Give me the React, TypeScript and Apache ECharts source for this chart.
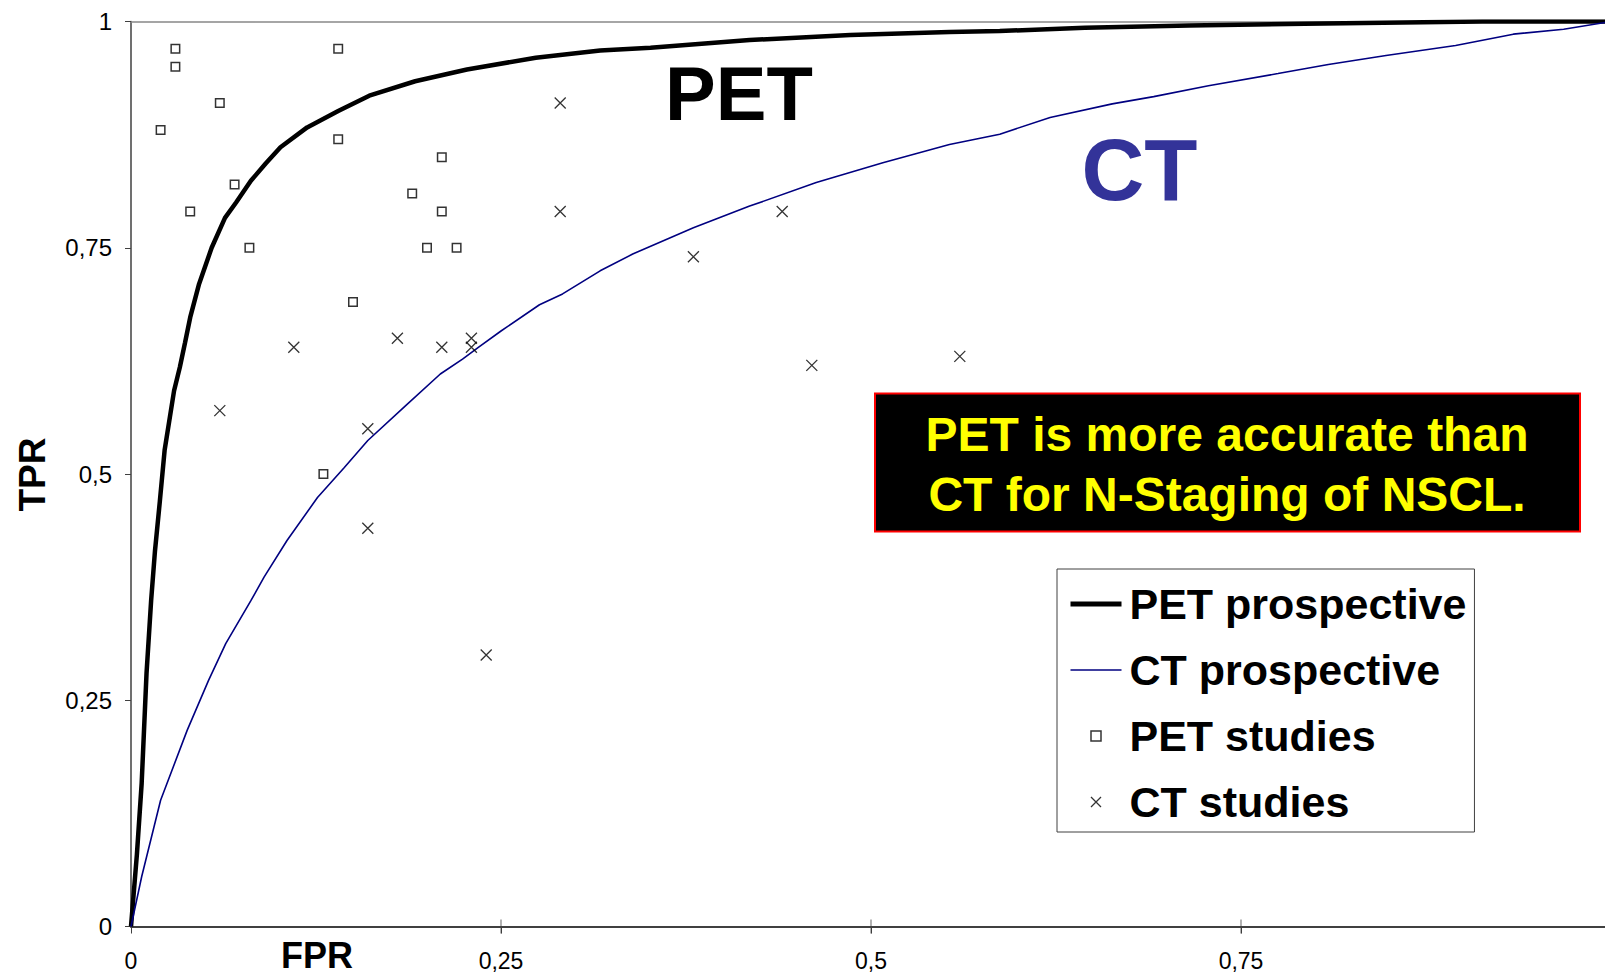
import React, { useEffect, useRef } from "react";
import * as echarts from "echarts";

// ---- data (FPR, TPR) ----
const petProspective: [number, number][] = [
  [0, 0], [0.004, 0.08], [0.0072, 0.158], [0.0105, 0.28], [0.0136, 0.36], [0.0162, 0.415],
  [0.0195, 0.47], [0.0227, 0.526], [0.0291, 0.592], [0.033, 0.618], [0.0365, 0.645],
  [0.04, 0.673], [0.046, 0.71], [0.0545, 0.75], [0.0635, 0.783], [0.071, 0.8], [0.081, 0.824],
  [0.091, 0.843], [0.101, 0.861], [0.119, 0.883], [0.14, 0.901], [0.161, 0.918], [0.192, 0.934],
  [0.227, 0.947], [0.2735, 0.96], [0.317, 0.968], [0.351, 0.971], [0.418, 0.9795],
  [0.486, 0.985], [0.553, 0.9885], [0.587, 0.9895], [0.6445, 0.993], [0.715, 0.9956],
  [0.793, 0.9974], [0.913, 1.0], [1, 1],
];

const ctProspective: [number, number][] = [
  [0, 0], [0.0072, 0.055], [0.02, 0.1395], [0.038, 0.217], [0.0524, 0.272], [0.064, 0.3125],
  [0.081, 0.36], [0.0899, 0.386], [0.1054, 0.4265], [0.126, 0.474], [0.144, 0.507],
  [0.16, 0.537], [0.1856, 0.5755], [0.209, 0.6105], [0.224, 0.627], [0.2347, 0.64],
  [0.25, 0.658], [0.276, 0.687], [0.2916, 0.699], [0.317, 0.7245], [0.339, 0.743],
  [0.38, 0.772], [0.418, 0.796], [0.463, 0.822], [0.508, 0.844], [0.553, 0.864],
  [0.587, 0.8755], [0.621, 0.894], [0.663, 0.909], [0.691, 0.917], [0.728, 0.929],
  [0.775, 0.9425], [0.809, 0.9525], [0.848, 0.9625], [0.895, 0.9735], [0.934, 0.986],
  [0.968, 0.9915], [1, 1],
];

const petStudies: [number, number][] = [
  [0.03, 0.97], [0.03, 0.95], [0.06, 0.91], [0.02, 0.88], [0.14, 0.97], [0.14, 0.87],
  [0.21, 0.85], [0.07, 0.82], [0.19, 0.81], [0.04, 0.79], [0.21, 0.79], [0.08, 0.75],
  [0.2, 0.75], [0.22, 0.75], [0.15, 0.69], [0.13, 0.5],
];

const ctStudies: [number, number][] = [
  [0.29, 0.91], [0.29, 0.79], [0.11, 0.64], [0.18, 0.65], [0.21, 0.64], [0.23, 0.65],
  [0.23, 0.64], [0.06, 0.57], [0.16, 0.55], [0.16, 0.44], [0.24, 0.3], [0.44, 0.79],
  [0.38, 0.74], [0.46, 0.62], [0.56, 0.63],
];

const axisTickValues = [0, 0.25, 0.5, 0.75, 1];
const seriesNames = ["PET prospective", "CT prospective", "PET studies", "CT studies"];
const curveLabels = ["PET", "CT"];
const axisNames = ["FPR", "TPR"];
const messageLines = ["PET is more accurate than", "CT for N-Staging of NSCL."];

const FONT = "'Liberation Sans', Arial, Helvetica, sans-serif";
const X_PATH = "path://M0,0L10,10M10,0L0,10";
const SQUARE_PATH = "path://M0,0L10,0L10,10L0,10Z";
const fmt = (v: number) => String(v).replace(".", ",");

export default function App() {
  const ref = useRef<HTMLDivElement>(null);

  useEffect(() => {
    if (!ref.current) return;
    const chart = echarts.init(ref.current, undefined, { renderer: "svg" });

    const option: any = {
      animation: false,
      backgroundColor: "#fff",
      grid: { left: 131, top: 21.5, width: 1480, height: 905, containLabel: false, outerBoundsMode: "none" },
      xAxis: [
        {
          type: "value", min: 0, max: 1, interval: 0.25, position: "bottom",
          axisLine: { show: true, onZero: false, lineStyle: { color: "#404040", width: 2 } },
          axisTick: { show: true, inside: false, length: 7, lineStyle: { color: "#404040", width: 1 } },
          axisLabel: {
            margin: 25, fontSize: 23, lineHeight: 18, color: "#000", fontFamily: FONT,
            formatter: fmt, showMaxLabel: false,
          },
          splitLine: { show: false },
        },
        {
          type: "value", min: 0, max: 1, interval: 0.25, position: "top",
          axisLine: { show: true, onZero: false, lineStyle: { color: "#888", width: 1.5 } },
          axisTick: { show: false }, axisLabel: { show: false }, splitLine: { show: false },
        },
      ],
      yAxis: {
        type: "value", min: 0, max: 1, interval: 0.25,
        axisLine: { show: true, onZero: false, lineStyle: { color: "#404040", width: 1.5 } },
        axisTick: { show: true, length: 6, lineStyle: { color: "#404040", width: 1 } },
        axisLabel: { margin: 19, fontSize: 24, color: "#000", fontFamily: FONT, formatter: fmt },
        splitLine: { show: false },
      },
      legend: {
        orient: "vertical", left: 1057, top: 569,
        padding: [7, 8, 2, 11], itemGap: 10, itemWidth: 51, itemHeight: 10,
        borderColor: "#404040", borderWidth: 1, backgroundColor: "#fff",
        selectedMode: false, symbolKeepAspect: true,
        textStyle: { fontFamily: FONT, fontWeight: "bold", fontSize: 43, color: "#000", lineHeight: 56, padding: [0, 0, 0, 3] },
        data: [
          { name: seriesNames[0], itemStyle: { color: "transparent", borderWidth: 0 }, lineStyle: { color: "#000", width: 5 } },
          { name: seriesNames[1], itemStyle: { color: "transparent", borderWidth: 0 }, lineStyle: { color: "#000080", width: 1.5 } },
          { name: seriesNames[2], icon: SQUARE_PATH, itemStyle: { color: "#fff", borderColor: "#000", borderWidth: 1.5 } },
          { name: seriesNames[3], icon: X_PATH, itemStyle: { color: "none", borderColor: "#000", borderWidth: 1.3 } },
        ],
      },
      series: [
        {
          name: seriesNames[0], type: "line", data: petProspective, symbol: "none",
          lineStyle: { color: "#000", width: 4.5 }, itemStyle: { color: "#000" }, z: 2,
        },
        {
          name: seriesNames[1], type: "line", data: ctProspective, symbol: "none",
          lineStyle: { color: "#000080", width: 1.6 }, itemStyle: { color: "#000080" }, z: 2,
        },
        {
          name: seriesNames[2], type: "scatter", data: petStudies, symbol: "rect", symbolSize: 8.5,
          itemStyle: { color: "#fff", borderColor: "#000", borderWidth: 1.5 }, z: 3,
        },
        {
          name: seriesNames[3], type: "scatter", data: ctStudies, symbol: X_PATH, symbolSize: 11,
          itemStyle: { color: "none", borderColor: "#000", borderWidth: 1.3 }, z: 3,
        },
        {
          name: "xTicks", type: "scatter", data: axisTickValues.slice(1).map((v) => [v, 0]),
          symbol: "rect", symbolSize: [1, 14], silent: true, clip: false,
          itemStyle: { color: "#404040" }, z: 4,
        },
      ],
      graphic: [
        {
          type: "text", x: 739, y: 93, z: 10,
          style: { text: curveLabels[0], fontFamily: FONT, fontWeight: "bold", fontSize: 76, fill: "#000", textAlign: "center", textVerticalAlign: "middle" },
        },
        {
          type: "text", x: 1139.5, y: 169, z: 10,
          style: { text: curveLabels[1], fontFamily: FONT, fontWeight: "bold", fontSize: 87, fill: "#333399", textAlign: "center", textVerticalAlign: "middle" },
        },
        {
          type: "text", x: 32, y: 474.5, rotation: Math.PI / 2, z: 10,
          style: { text: axisNames[1], fontFamily: FONT, fontWeight: "bold", fontSize: 37, fill: "#000", textAlign: "center", textVerticalAlign: "middle" },
        },
        {
          type: "text", x: 317, y: 955, z: 10,
          style: { text: axisNames[0], fontFamily: FONT, fontWeight: "bold", fontSize: 36, fill: "#000", textAlign: "center", textVerticalAlign: "middle" },
        },
        {
          type: "rect", z: 10,
          shape: { x: 875, y: 393.5, width: 705, height: 138 },
          style: { fill: "#000", stroke: "#ff0000", lineWidth: 2 },
        },
        {
          type: "text", x: 1227, y: 434, z: 11,
          style: { text: messageLines[0], fontFamily: FONT, fontWeight: "bold", fontSize: 48, fill: "#ffff00", textAlign: "center", textVerticalAlign: "middle" },
        },
        {
          type: "text", x: 1227, y: 494, z: 11,
          style: { text: messageLines[1], fontFamily: FONT, fontWeight: "bold", fontSize: 48, fill: "#ffff00", textAlign: "center", textVerticalAlign: "middle" },
        },
      ],
    };

    chart.setOption(option);
    return () => chart.dispose();
  }, []);

  return (
    <div
      ref={ref}
      style={{ position: "fixed", left: 0, top: 0, width: 1605, height: 975, background: "#fff" }}
    />
  );
}
